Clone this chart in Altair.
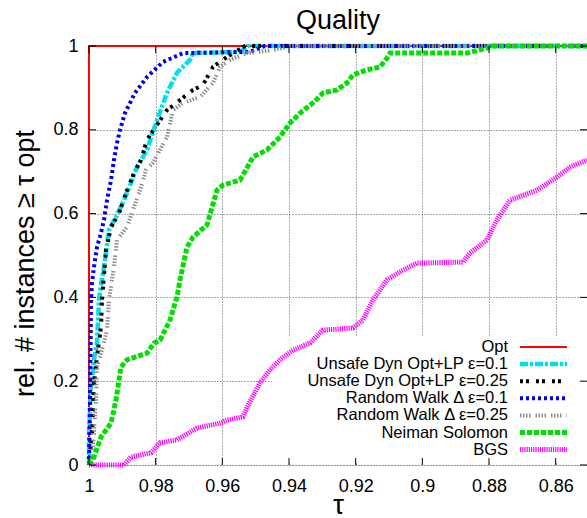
import altair as alt
import pandas as pd

FONT = "Liberation Sans"

series_names = ["Opt", "Unsafe Dyn Opt+LP ε=0.1", "Unsafe Dyn Opt+LP ε=0.25",
                "Random Walk Δ ε=0.1", "Random Walk Δ ε=0.25", "Neiman Solomon", "BGS"]

opt_tau = [1.0, 1.0, 0.85]
opt_frac = [0.0, 1.0, 1.0]

udo01_tau = [1.0, 1.0, 0.9994, 0.9985, 0.9976, 0.997, 0.9964, 0.9955, 0.994, 0.9919, 0.9895,
             0.9874, 0.9856, 0.9826, 0.9796, 0.9766, 0.9736, 0.9697, 0.9688, 0.9547, 0.9523, 0.85]
udo01_frac = [0.0, 0.076, 0.186, 0.251, 0.291, 0.394, 0.43, 0.473, 0.561, 0.592, 0.632,
              0.673, 0.711, 0.752, 0.823, 0.888, 0.936, 0.967, 0.983, 0.986, 1.0, 1.0]

udo025_tau = [1.0, 0.9991, 0.9985, 0.9976, 0.9964, 0.9961, 0.9949, 0.9934, 0.991, 0.9889, 0.9865,
              0.9844, 0.9826, 0.9766, 0.9727, 0.9688, 0.9658, 0.9628, 0.9598, 0.9568, 0.9532, 0.85]
udo025_frac = [0.0, 0.076, 0.196, 0.258, 0.329, 0.394, 0.513, 0.568, 0.601, 0.649, 0.697,
               0.728, 0.776, 0.847, 0.871, 0.895, 0.907, 0.950, 0.967, 0.983, 1.0, 1.0]

rw01_tau = [1.0, 0.9997, 0.9994, 0.9991, 0.9985, 0.9976, 0.9964, 0.9955, 0.9946, 0.9934, 0.9925,
            0.9916, 0.9907, 0.9892, 0.9862, 0.9826, 0.9778, 0.9718, 0.9517, 0.9472, 0.85]
rw01_frac = [0.0, 0.155, 0.387, 0.434, 0.473, 0.520, 0.554, 0.585, 0.632, 0.680, 0.728,
             0.768, 0.800, 0.840, 0.888, 0.926, 0.962, 0.983, 0.986, 1.0, 1.0]

rw025_tau = [1.0, 0.9991, 0.9985, 0.9979, 0.9976, 0.9961, 0.9946, 0.994, 0.9925, 0.9916, 0.9886,
             0.9865, 0.9844, 0.9829, 0.9808, 0.9766, 0.9748, 0.9718, 0.9667, 0.9628, 0.9607,
             0.9577, 0.9526, 0.9448, 0.9397, 0.85]
rw025_frac = [0.0, 0.019, 0.076, 0.155, 0.234, 0.274, 0.322, 0.394, 0.473, 0.537, 0.568,
              0.616, 0.663, 0.704, 0.721, 0.783, 0.847, 0.864, 0.878, 0.912, 0.950,
              0.967, 0.983, 0.990, 1.0, 1.0]

ns_tau = [1.0, 0.9985, 0.9964, 0.9934, 0.9919, 0.9904, 0.9886, 0.9826, 0.9805, 0.9787, 0.9757,
          0.9736, 0.9727, 0.9706, 0.9688, 0.9646, 0.9616, 0.9598, 0.9547, 0.9508, 0.9466,
          0.9427, 0.9397, 0.9367, 0.9328, 0.9298, 0.9256, 0.9226, 0.9208, 0.9166, 0.9127,
          0.9106, 0.9097, 0.8866, 0.8806, 0.8797, 0.85]
ns_frac = [0.0, 0.019, 0.067, 0.100, 0.155, 0.234, 0.251, 0.267, 0.291, 0.298, 0.346,
           0.401, 0.442, 0.520, 0.544, 0.573, 0.656, 0.668, 0.680, 0.735, 0.752,
           0.783, 0.816, 0.840, 0.864, 0.888, 0.895, 0.912, 0.931, 0.943, 0.950,
           0.971, 0.983, 0.983, 0.995, 1.0, 1.0]

bgs_tau = [1.0, 0.9895, 0.9874, 0.9814, 0.9787, 0.9736, 0.9676, 0.9607, 0.9586, 0.9538, 0.9526,
           0.9487, 0.9457, 0.9427, 0.9388, 0.9337, 0.9298, 0.9208, 0.9178, 0.9148, 0.9127,
           0.9106, 0.9058, 0.9016, 0.8878, 0.8857, 0.8806, 0.8776, 0.8737, 0.8656, 0.8596,
           0.8557, 0.8506]
bgs_frac = [0.0, 0.0, 0.019, 0.029, 0.053, 0.060, 0.088, 0.100, 0.107, 0.115, 0.138,
            0.196, 0.227, 0.251, 0.274, 0.291, 0.322, 0.327, 0.346, 0.394, 0.418,
            0.442, 0.465, 0.482, 0.484, 0.506, 0.537, 0.585, 0.632, 0.656, 0.687,
            0.711, 0.728]

x_ticks = [1.0, 0.98, 0.96, 0.94, 0.92, 0.9, 0.88, 0.86]
y_ticks = [0.0, 0.2, 0.4, 0.6, 0.8, 1.0]

series_data = [
    (opt_tau, opt_frac), (udo01_tau, udo01_frac), (udo025_tau, udo025_frac),
    (rw01_tau, rw01_frac), (rw025_tau, rw025_frac), (ns_tau, ns_frac), (bgs_tau, bgs_frac),
]

styles = [
    dict(color="#ff0000", strokeWidth=2),
    dict(color="#00e0ea", strokeWidth=4.5, strokeDash=[8, 2, 3, 2]),
    dict(color="#000000", strokeWidth=4, strokeDash=[3, 3, 3, 7]),
    dict(color="#0000ee", strokeWidth=4, strokeDash=[3, 3]),
    dict(color="#8c8c8c", strokeWidth=4, strokeDash=[1.5, 1.5, 1.5, 1.5, 1.5, 1.5, 1.5, 5]),
    dict(color="#00e000", strokeWidth=5, strokeDash=[5, 2]),
    dict(color="#ff00ff", strokeWidth=5, strokeDash=[1.2, 1]),
]

W, H = 498, 419

xscale = alt.Scale(domain=[0.8506, 1.0], reverse=True, nice=False, zero=False)
yscale = alt.Scale(domain=[0.0, 1.0], nice=False, zero=False)

xaxis = alt.Axis(values=x_ticks, format="~g", title="τ", grid=True, ticks=False, domain=False,
                 labelFont=FONT, labelFontSize=18, labelColor="black", labelPadding=12,
                 labelFlush=False, labelOverlap=False,
                 titleFont=FONT, titleFontSize=28, titleFontWeight="normal", titleColor="black",
                 titleX=W / 2, titleY=48, titleBaseline="alphabetic", titleAlign="center",
                 gridColor="#555555", gridDash=[1, 2], gridWidth=1, gridOpacity=1)
yaxis = alt.Axis(values=y_ticks, format="~g", title="rel. # instances ≥ τ opt", grid=True,
                 ticks=False, domain=False,
                 labelFont=FONT, labelFontSize=18, labelColor="black", labelPadding=11,
                 labelFlush=False, labelOverlap=False,
                 titleFont=FONT, titleFontSize=27, titleFontWeight="normal", titleColor="black",
                 titleX=-56, titleY=217, titleAngle=270, titleBaseline="alphabetic",
                 titleAlign="center",
                 gridColor="#555555", gridDash=[1, 2], gridWidth=1, gridOpacity=1)


def xenc():
    return alt.X("tau:Q", scale=xscale, axis=xaxis)


def yenc():
    return alt.Y("frac:Q", scale=yscale, axis=yaxis)


layers = []

# opaque key background (drawn under the curves, over the grid)
layers.append(
    alt.Chart(pd.DataFrame({"k": [0]})).mark_rect(color="white").encode(
        x=alt.value(183), x2=alt.value(W), y=alt.value(291), y2=alt.value(416)
    )
)

for name, (tau, frac), st in zip(series_names, series_data, styles):
    df = pd.DataFrame({"tau": tau, "frac": frac, "i": list(range(len(tau)))})
    layers.append(
        alt.Chart(df).mark_line(clip=False, strokeCap="butt", **st).encode(
            x=xenc(), y=yenc(), order="i:Q"
        )
    )

# inward tick marks on all four sides
xt = pd.DataFrame({"tau": x_ticks})
yt = pd.DataFrame({"frac": y_ticks})
layers.append(alt.Chart(xt).mark_rule(color="black", strokeWidth=1).encode(
    x=xenc(), y=alt.value(H), y2=alt.value(H - 7)))
layers.append(alt.Chart(xt).mark_rule(color="black", strokeWidth=1).encode(
    x=xenc(), y=alt.value(0), y2=alt.value(7)))
layers.append(alt.Chart(yt).mark_rule(color="black", strokeWidth=1).encode(
    y=yenc(), x=alt.value(0), x2=alt.value(7)))
layers.append(alt.Chart(yt).mark_rule(color="black", strokeWidth=1).encode(
    y=yenc(), x=alt.value(W), x2=alt.value(W - 7)))

# key (labels to the left of the line samples)
for i, (name, st) in enumerate(zip(series_names, styles)):
    ypix = 301 + 17.1 * i
    layers.append(
        alt.Chart(pd.DataFrame({"label": [name]})).mark_text(
            align="right", baseline="middle", font=FONT, fontSize=16.5, color="black"
        ).encode(x=alt.value(419), y=alt.value(ypix), text="label:N")
    )
    layers.append(
        alt.Chart(pd.DataFrame({"label": [name]})).mark_rule(strokeCap="butt", **st).encode(
            x=alt.value(431), x2=alt.value(478), y=alt.value(ypix)
        )
    )

chart = alt.layer(*layers).properties(
    width=W, height=H,
    title=alt.TitleParams("Quality", font=FONT, fontSize=27, fontWeight="normal",
                          color="black", anchor="middle", baseline="alphabetic", offset=7,
                          dy=27),
    autosize=alt.AutoSizeParams(type="none"),
    padding={"left": 89, "top": 46, "right": 0, "bottom": 53},
).configure_view(stroke="black", strokeWidth=1).configure(background="white")

chart.save("out.html", embed_options={"renderer": "svg", "actions": False})
